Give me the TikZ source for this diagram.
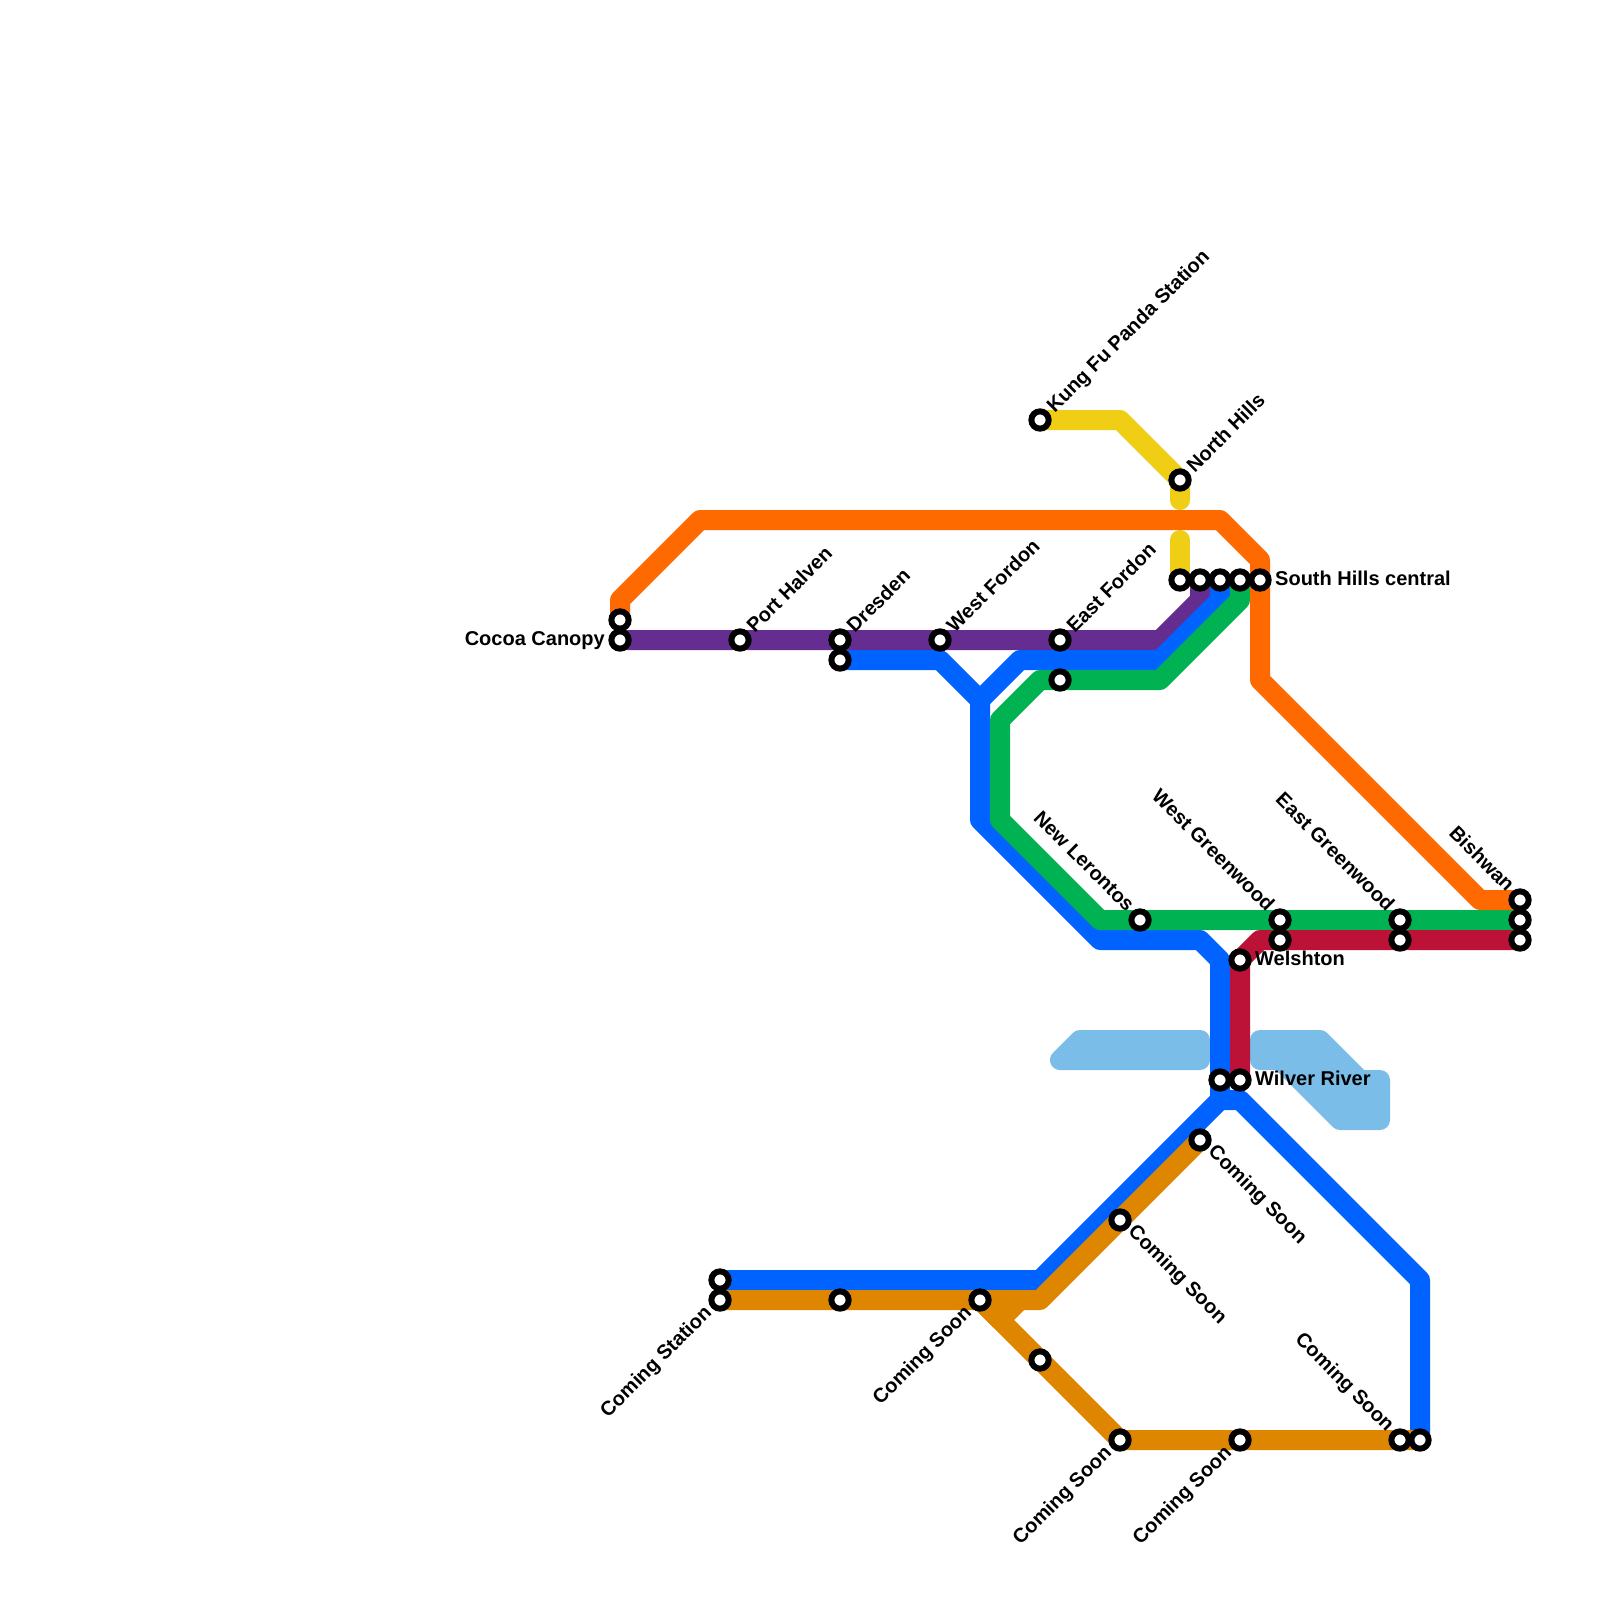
\documentclass[tikz,border=0pt]{standalone}
\usepackage{fontspec}
\setmainfont{Liberation Sans}
\usetikzlibrary{backgrounds}
\definecolor{lorange}{HTML}{FF6A00}
\definecolor{lblue}{HTML}{0062FF}
\definecolor{lgreen}{HTML}{00B251}
\definecolor{lpurple}{HTML}{662D91}
\definecolor{lred}{HTML}{BC1238}
\definecolor{lyellow}{HTML}{F0CE15}
\definecolor{lgold}{HTML}{DF8600}
\definecolor{lwater}{HTML}{7BBDE9}
\tikzset{
  station/.style={circle,draw=black,fill=white,line width=6pt,minimum size=17.3pt,inner sep=0pt,outer sep=0pt},
  lbl/.style={inner sep=0pt,font=\fontsize{20}{24}\selectfont\bfseries,text=black,text height=14.5pt,text depth=4pt},
  up/.style={lbl,rotate=45},
  dn/.style={lbl,rotate=-45},
  metro/.style={line width=20pt,line join=round},
  water/.style={draw=lwater,fill=lwater,line width=20pt,line join=round}
}
\begin{document}
\begin{tikzpicture}[x=1pt,y=-1pt]
\useasboundingbox (0,0) rectangle (1600,1600);
% stations
\node[station] (cocoaA) at (620,620) {};
\node[station] (cocoa) at (620,640) {};
\node[station] (port) at (740,640) {};
\node[station] (dresden) at (840,640) {};
\node[station] (dresdenB) at (840,660) {};
\node[station] (wfordon) at (940,640) {};
\node[station] (efordon) at (1060,640) {};
\node[station] (efordonB) at (1060,680) {};
\node[station] (kung) at (1040,420) {};
\node[station] (north) at (1180,480) {};
\node[station] (hubA) at (1180,580) {};
\node[station] (hubB) at (1200,580) {};
\node[station] (hubC) at (1220,580) {};
\node[station] (hubD) at (1240,580) {};
\node[station] (south) at (1260,580) {};
\node[station] (newl) at (1140,920) {};
\node[station] (wgreen) at (1280,920) {};
\node[station] (wgreenB) at (1280,940) {};
\node[station] (egreen) at (1400,920) {};
\node[station] (egreenB) at (1400,940) {};
\node[station] (bishA) at (1520,900) {};
\node[station] (bishB) at (1520,920) {};
\node[station] (bishC) at (1520,940) {};
\node[station] (welsh) at (1240,960) {};
\node[station] (wilvA) at (1220,1080) {};
\node[station] (wilv) at (1240,1080) {};
\node[station] (soonA) at (1200,1140) {};
\node[station] (soonB) at (1120,1220) {};
\node[station] (blueEnd) at (720,1280) {};
\node[station] (comingst) at (720,1300) {};
\node[station] (soonC) at (840,1300) {};
\node[station] (soonD) at (980,1300) {};
\node[station] (soonE) at (1040,1360) {};
\node[station] (soonF) at (1120,1440) {};
\node[station] (soonG) at (1240,1440) {};
\node[station] (soonH) at (1400,1440) {};
\node[station] (blueB) at (1420,1440) {};
% labels
\node[lbl,anchor=east] (tCocoa) at (605,640) {Cocoa Canopy};
\node[up,anchor=west] (tPort) at (751,630) {Port Halven};
\node[up,anchor=west] (tDres) at (851,630) {Dresden};
\node[up,anchor=west] (tWF) at (951,630) {West Fordon};
\node[up,anchor=west] (tEF) at (1071,630) {East Fordon};
\node[up,anchor=west] (tKung) at (1051,410) {Kung Fu Panda Station};
\node[up,anchor=west] (tNorth) at (1191,470) {North Hills};
\node[lbl,anchor=west] (tSouth) at (1275,580.5) {South Hills central};
\node[lbl,anchor=west] (tWelsh) at (1255,960.5) {Welshton};
\node[lbl,anchor=west] (tWilv) at (1255,1080.5) {Wilver River};
\node[dn,anchor=east] (tNew) at (1130,909) {New Lerontos};
\node[dn,anchor=east] (tWG) at (1270,909) {West Greenwood};
\node[dn,anchor=east] (tEG) at (1390,909) {East Greenwood};
\node[dn,anchor=east] (tBish) at (1510,889) {Bishwan};
\node[dn,anchor=west] (tSA) at (1211,1149) {Coming Soon};
\node[dn,anchor=west] (tSB) at (1131,1229) {Coming Soon};
\node[up,anchor=east] (tCS) at (709,1310) {Coming Station};
\node[up,anchor=east] (tSD) at (969,1310) {Coming Soon};
\node[up,anchor=east] (tSF) at (1109,1450) {Coming Soon};
\node[up,anchor=east] (tSG) at (1229,1450) {Coming Soon};
\node[dn,anchor=east] (tSH) at (1390,1429) {Coming Soon};
\begin{pgfonlayer}{background}
\fill[white] (0,0) rectangle (1600,1600);
\draw[water] (1060,1060) -- (1080,1040) -- (1200,1040) -- (1200,1060) -- cycle;
\draw[water] (1260,1040) -- (1320,1040) -- (1360,1080) -- (1380,1080) -- (1380,1120) -- (1340,1120) -- (1280,1060) -- (1260,1060) -- cycle;
% yellow
\draw[metro,lyellow,line cap=round] (kung.center) -- (1120,420) -- (north.center) -- (1180,500);
\draw[metro,lyellow,line cap=round] (1180,540) -- (hubA.center);
% purple
\draw[metro,lpurple] (cocoa.center) -- (1160,640) -- (1200,600) -- (hubB.center);
% blue
\draw[metro,lblue] (blueEnd.center) -- (1040,1280) -- (1220,1100) -- (wilvA.center) -- (1220,960) -- (1200,940) -- (1100,940) -- (980,820) -- (980,700) -- (940,660) -- (dresdenB.center);
\draw[metro,lblue] (980,700) -- (1020,660) -- (1160,660) -- (1220,600) -- (hubC.center);
\draw[metro,lblue] (1220,1100) -- (1240,1100) -- (1420,1280) -- (blueB.center);
% gold
\draw[metro,lgold] (soonA.center) -- (1040,1300) -- (comingst.center);
\draw[metro,lgold] (1020,1300) -- (1000,1320) -- (soonD.center);
\draw[metro,lgold] (soonD.center) -- (soonF.center) -- (blueB.center);
% green
\draw[metro,lgreen] (hubD.center) -- (1240,600) -- (1160,680) -- (1040,680) -- (1000,720) -- (1000,820) -- (1100,920) -- (bishB.center);
% red
\draw[metro,lred] (bishC.center) -- (1260,940) -- (welsh.center) -- (wilv.center);
% orange
\draw[metro,lorange] (cocoaA.center) -- (620,600) -- (700,520) -- (1220,520) -- (1260,560) -- (1260,680) -- (1480,900) -- (bishA.center);
\end{pgfonlayer}
\end{tikzpicture}
\end{document}
